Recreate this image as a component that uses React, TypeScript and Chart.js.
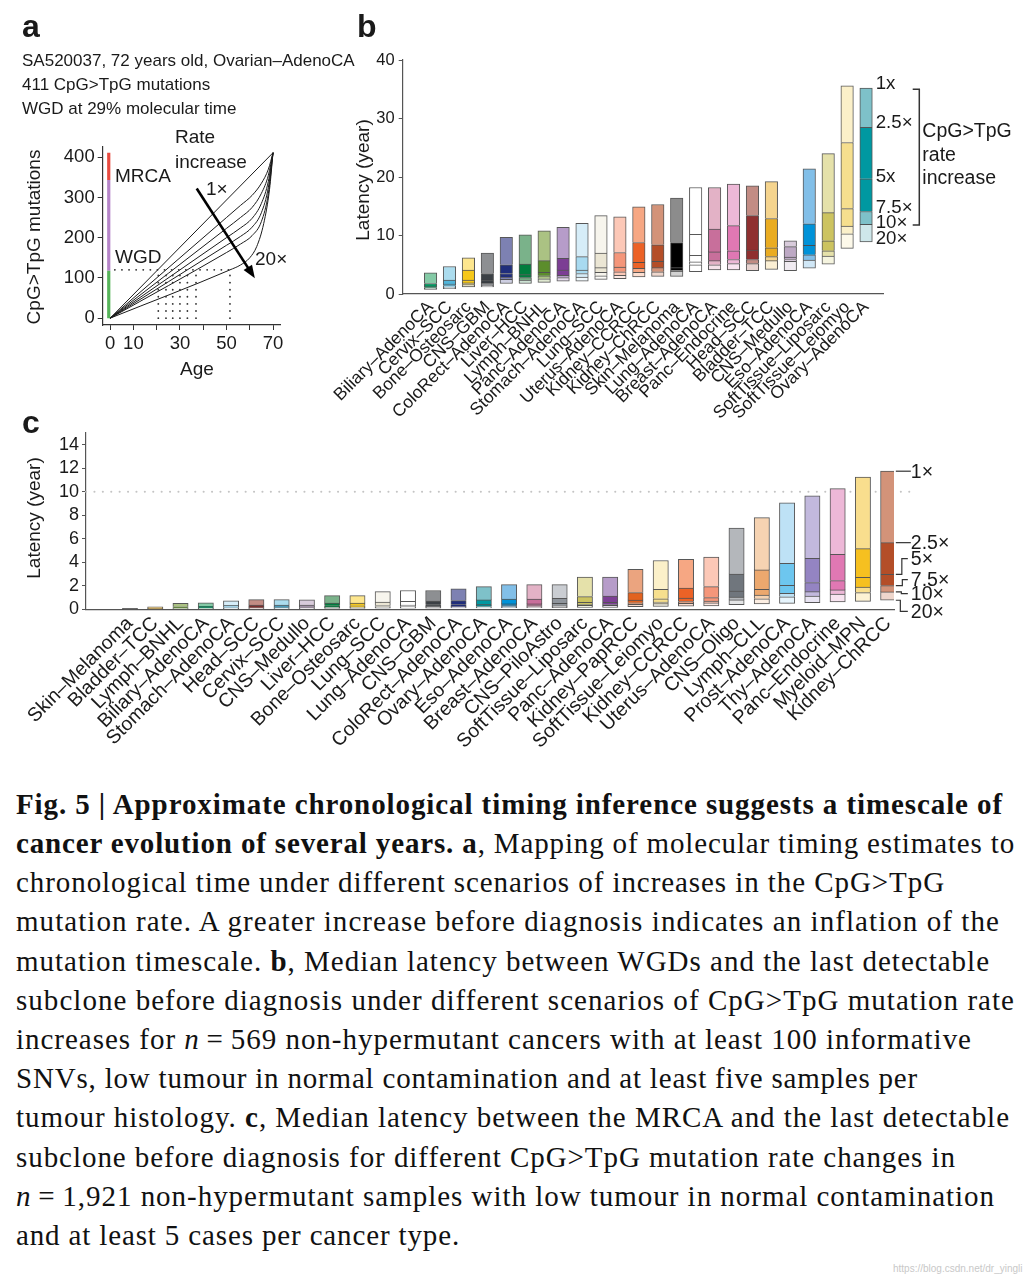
import React, { useEffect, useLayoutEffect, useRef } from 'react';
import { Chart, registerables } from 'chart.js';

Chart.register(...registerables);

const SANS = "'Liberation Sans', Arial, Helvetica, sans-serif";
const SERIF = "'Liberation Serif', 'Times New Roman', serif";
const INK = '#1a1a1a';

// ---------------- Panel a data ----------------
const ageTicksA = [0, 10, 20, 30, 40, 50, 60, 70];
const ageTickLabelsA = [0, 10, 30, 50, 70];
const mutTicksA = [0, 100, 200, 300, 400];
const curve1xA = [[0, 0], [70, 411]];
const curve2A = [[0, 0], [50, 250], [56, 280], [61, 305], [65, 335], [68, 370], [70, 411]];
const curve3A = [[0, 0], [50, 223], [56, 250], [61, 275], [65, 310], [68, 355], [70, 411]];
const curve4A = [[0, 0], [50, 200], [56, 224], [61, 248], [65, 285], [68, 340], [70, 411]];
const curve5A = [[0, 0], [50, 181], [56, 203], [61, 226], [65, 262], [68, 325], [70, 411]];
const curve6A = [[0, 0], [50, 163], [56, 184], [61, 205], [65, 240], [68, 310], [70, 411]];
const curve20xA = [[0, 0], [51.5, 120], [56, 132], [60, 150], [63, 178], [66, 235], [68.5, 320], [70, 411]];
const wgdLevelA = 120;
const wgdAgesA = [20.7, 24.0, 26.9, 30.0, 33.2, 36.9, 51.5];
const stageBreaksA = [0, 118, 343, 411];
const stageColorsA = ['#56b45a', '#b584c8', '#e84a3f'];
const arrowFromA = [37.2, 322];
const arrowToA = [62.2, 99];

// ---------------- Panel b data ----------------
const catsB = ['Biliary–AdenoCA', 'Cervix–SCC', 'Bone–Osteosarc', 'CNS–GBM', 'ColoRect–AdenoCA', 'Liver–HCC', 'Lymph–BNHL', 'Panc–AdenoCA', 'Stomach–AdenoCA', 'Lung–SCC', 'Uterus–AdenoCA', 'Kidney–CCRCC', 'Kidney–ChRCC', 'Skin–Melanoma', 'Lung–AdenoCA', 'Breast–AdenoCA', 'Panc–Endocrine', 'Head–SCC', 'Bladder–TCC', 'CNS–Medullo', 'Eso–AdenoCA', 'SoftTissue–Liposarc', 'SoftTissue–Leiomyo', 'Ovary–AdenoCA'];
const latB1x = [3.6, 4.7, 6.2, 7.0, 9.7, 10.1, 10.8, 11.4, 12.1, 13.4, 13.2, 14.9, 15.3, 16.4, 18.2, 18.2, 18.8, 18.5, 19.2, 9.1, 21.4, 24.0, 35.6, 35.2];
const latB2_5x = [1.8, 2.4, 4.1, 3.5, 5.0, 5.1, 5.7, 6.1, 6.4, 7.0, 7.1, 8.8, 8.4, 8.8, 10.2, 11.1, 11.7, 13.4, 12.9, 8.1, 12.0, 13.9, 25.9, 28.5];
const latB5x = [1.35, 1.7, 2.4, 2.4, 3.5, 3.3, 3.7, 4.1, 4.1, 4.5, 4.6, 5.4, 5.6, 4.5, 6.6, 7.2, 7.4, 7.5, 7.9, 6.3, 8.3, 9.1, 14.6, 19.7];
const latB7_5x = [1.1, 1.4, 1.9, 1.9, 2.9, 2.8, 3.1, 3.2, 3.5, 3.7, 3.8, 4.4, 4.5, 4.1, 5.5, 5.7, 5.9, 5.9, 6.4, 5.9, 6.7, 7.4, 11.6, 14.1];
const latB10x = [1.0, 1.2, 1.6, 1.5, 2.5, 2.4, 2.6, 2.8, 2.9, 3.1, 3.2, 3.7, 3.8, 3.9, 5.0, 5.0, 5.2, 5.2, 5.7, 5.6, 5.8, 6.5, 10.3, 11.9];
const latB20x = [0.8, 0.9, 1.2, 1.2, 1.8, 1.8, 2.0, 2.2, 2.2, 2.5, 2.6, 2.9, 3.0, 3.0, 3.8, 4.1, 4.1, 4.0, 4.2, 4.0, 4.4, 5.1, 7.8, 8.9];
const yTicksB = [0, 10, 20, 30, 40];
const rateLabelsB = ['1x', '2.5×', '5x', '7.5×', '10×', '20×'];

// ---------------- Panel c data ----------------
const catsC = ['Skin–Melanoma', 'Bladder–TCC', 'Lymph–BNHL', 'Biliary–AdenoCA', 'Stomach–AdenoCA', 'Head–SCC', 'Cervix–SCC', 'CNS–Medullo', 'Liver–HCC', 'Bone–Osteosarc', 'Lung–SCC', 'Lung–AdenoCA', 'CNS–GBM', 'ColoRect–AdenoCA', 'Ovary–AdenoCA', 'Eso–AdenoCA', 'Breast–AdenoCA', 'CNS–PiloAstro', 'SoftTissue–Liposarc', 'Panc–AdenoCA', 'Kidney–PapRCC', 'SoftTissue–Leiomyo', 'Kidney–CCRCC', 'Uterus–AdenoCA', 'CNS–Oligo', 'Lymph–CLL', 'Prost–AdenoCA', 'Thy–AdenoCA', 'Panc–Endocrine', 'Myeloid–MPN', 'Kidney–ChRCC'];
const latC1x = [0.06, 0.2, 0.5, 0.55, 0.72, 0.82, 0.82, 0.8, 1.16, 1.16, 1.5, 1.6, 1.6, 1.75, 1.93, 2.1, 2.1, 2.1, 2.75, 2.75, 3.4, 4.15, 4.25, 4.45, 6.9, 7.8, 9.05, 9.65, 10.27, 11.24, 11.75];
const latC2_5x = [0.03, 0.1, 0.22, 0.26, 0.34, 0.36, 0.36, 0.36, 0.52, 0.52, 0.62, 0.68, 0.7, 0.74, 0.8, 0.88, 0.86, 0.93, 1.08, 1.13, 1.42, 1.7, 1.8, 1.93, 3.0, 3.35, 3.92, 4.34, 4.68, 5.16, 5.67];
const latC5x = [0.02, 0.06, 0.13, 0.14, 0.19, 0.2, 0.2, 0.2, 0.3, 0.3, 0.32, 0.35, 0.38, 0.4, 0.42, 0.46, 0.46, 0.5, 0.6, 0.6, 0.78, 0.9, 0.95, 1.0, 1.56, 1.7, 2.04, 2.27, 2.44, 2.73, 2.98];
const latC7_5x = [0.015, 0.04, 0.09, 0.1, 0.13, 0.14, 0.14, 0.14, 0.2, 0.2, 0.22, 0.24, 0.26, 0.27, 0.29, 0.31, 0.31, 0.34, 0.42, 0.42, 0.55, 0.62, 0.66, 0.7, 1.05, 1.2, 1.36, 1.5, 1.65, 1.88, 2.02];
const latC10x = [0.01, 0.03, 0.07, 0.08, 0.1, 0.11, 0.11, 0.11, 0.16, 0.16, 0.17, 0.19, 0.2, 0.21, 0.22, 0.24, 0.24, 0.26, 0.33, 0.33, 0.42, 0.48, 0.5, 0.54, 0.8, 0.9, 1.07, 1.13, 1.3, 1.42, 1.48];
const latC20x = [0.005, 0.02, 0.04, 0.04, 0.05, 0.06, 0.06, 0.06, 0.08, 0.08, 0.09, 0.1, 0.1, 0.11, 0.12, 0.13, 0.13, 0.14, 0.17, 0.17, 0.22, 0.25, 0.26, 0.28, 0.4, 0.45, 0.5, 0.56, 0.62, 0.68, 0.77];
const yTicksC = [0, 2, 4, 6, 8, 10, 12, 14];
const refLineC = 10;
const rateLabelsC = ['1×', '2.5×', '5×', '7.5×', '10×', '20×'];

// ---------------- colours (base, light) per cancer type ----------------
const typeColors: Record<string, [string, string]> = {
  'Biliary–AdenoCA': ['#009a62', '#84caa6'],
  'Cervix–SCC': ['#52b5da', '#abdcee'],
  'Bone–Osteosarc': ['#f6c81a', '#fde68e'],
  'CNS–GBM': ['#3b4045', '#8d8f92'],
  'ColoRect–AdenoCA': ['#202e7c', '#7d81b2'],
  'Liver–HCC': ['#007d3e', '#7ab28a'],
  'Lymph–BNHL': ['#5c8d2c', '#abc283'],
  'Panc–AdenoCA': ['#7c3e94', '#b69cc9'],
  'Stomach–AdenoCA': ['#a8daf0', '#d6edf8'],
  'Lung–SCC': ['#ebe6d4', '#f7f5ed'],
  'Uterus–AdenoCA': ['#f4967a', '#fcc8b7'],
  'Kidney–CCRCC': ['#ec6226', '#f6a783'],
  'Kidney–ChRCC': ['#b44e28', '#d39379'],
  'Skin–Melanoma': ['#000000', '#8c8c8c'],
  'Lung–AdenoCA': ['#ffffff', '#ffffff'],
  'Breast–AdenoCA': ['#c86f9b', '#e3b2c6'],
  'Panc–Endocrine': ['#e078b3', '#edb8d7'],
  'Head–SCC': ['#8f3030', '#c28c84'],
  'Bladder–TCC': ['#eaac22', '#f5d48e'],
  'CNS–Medullo': ['#bda9c4', '#d8cbdb'],
  'Eso–AdenoCA': ['#0092d8', '#82bfe8'],
  'SoftTissue–Liposarc': ['#ccc360', '#e5e1aa'],
  'SoftTissue–Leiomyo': ['#f6df8e', '#fbf0c9'],
  'Ovary–AdenoCA': ['#0098a1', '#7ec1c9'],
  'CNS–PiloAstro': ['#8f959c', '#cacdd2'],
  'Kidney–PapRCC': ['#e2621f', '#eba47f'],
  'CNS–Oligo': ['#70767d', '#b4b7bb'],
  'Lymph–CLL': ['#eca86e', '#f6d3b2'],
  'Prost–AdenoCA': ['#6dc6ef', '#bee2f6'],
  'Thy–AdenoCA': ['#9484c2', '#c2b9dd'],
  'Myeloid–MPN': ['#f6c020', '#f9de8e'],
};

function tint(hex: string, a: number) {
  const n = parseInt(hex.slice(1), 16);
  const r = (n >> 16) & 255, g = (n >> 8) & 255, b = n & 255;
  const m = (c: number) => Math.round(c * a + 255 * (1 - a));
  return `rgb(${m(r)},${m(g)},${m(b)})`;
}
function colorFor(cat: string, tone: string) {
  const [base, light] = typeColors[cat] || ['#888888', '#cccccc'];
  if (tone === 'base') return base;
  if (tone === 'light') return light;
  return tint(light, 0.38);
}

// ---------------- layout ----------------
const A = { left: 0, top: 0, w: 340, h: 390, l: 102.7, r: 280, t: 146.7, b: 325 };
const B = { left: 320, top: 0, w: 715, h: 445, l: 82.7, r: 563.3, t: 60, b: 294 };
const C = { left: 0, top: 410, w: 1035, h: 350, l: 86, r: 894, t: 23, b: 199.3 };
const barThickB = 12.5;
const barThickC = 15.3;

const fixY = (w: number) => (s: any) => { s.width = w; s.paddingTop = 0; s.paddingBottom = 0; s.paddingLeft = 0; s.paddingRight = 0; };
const fixX = (h: number) => (s: any) => { s.height = h; s.paddingTop = 0; s.paddingBottom = 0; s.paddingLeft = 0; s.paddingRight = 0; };
const setTicks = (vals: number[]) => (s: any) => { s.ticks = vals.map((v) => ({ value: v })); };

function baseOptions(box: any) {
  return {
    responsive: false,
    animation: false,
    devicePixelRatio: 1,
    events: [],
    layout: { autoPadding: false, padding: { left: 0, top: box.t, right: box.w - box.r, bottom: 0 } },
    plugins: { legend: { display: false }, tooltip: { enabled: false } },
  };
}

function floatingBars(cats: string[], s1: number[], s2: number[], s5: number[], s7: number[], s10: number[], s20: number[], thick: number) {
  const bounds = [s20, s10, s7, s5, s2, s1];
  const tones = ['vlight', 'light', 'base', 'base', 'light'];
  return [0, 1, 2, 3, 4].map((k) => ({
    type: 'bar',
    data: cats.map((c, i) => ({ x: i, y: [bounds[k][i], bounds[k + 1][i]] })),
    backgroundColor: cats.map((c) => colorFor(c, tones[k])),
    borderColor: 'rgba(45,45,45,0.8)',
    borderWidth: { top: 1, left: 1, right: 1, bottom: k === 0 ? 1 : 0 },
    borderSkipped: false,
    barThickness: thick,
    grouped: false,
    order: 1,
  }));
}

// ---------------- chart a ----------------
const arrowPlugin = {
  id: 'arrowA',
  afterDatasetsDraw(chart: any) {
    const { ctx, scales } = chart;
    const x0 = scales.x.getPixelForValue(arrowFromA[0]);
    const y0 = scales.y.getPixelForValue(arrowFromA[1]);
    const x1 = scales.x.getPixelForValue(arrowToA[0]);
    const y1 = scales.y.getPixelForValue(arrowToA[1]);
    const ang = Math.atan2(y1 - y0, x1 - x0);
    const hl = 13, hw = 5;
    ctx.save();
    ctx.strokeStyle = '#000';
    ctx.fillStyle = '#000';
    ctx.lineWidth = 2.6;
    ctx.beginPath();
    ctx.moveTo(x0, y0);
    ctx.lineTo(x1 - Math.cos(ang) * hl * 0.8, y1 - Math.sin(ang) * hl * 0.8);
    ctx.stroke();
    ctx.beginPath();
    ctx.moveTo(x1, y1);
    ctx.lineTo(x1 - Math.cos(ang) * hl + Math.sin(ang) * hw, y1 - Math.sin(ang) * hl - Math.cos(ang) * hw);
    ctx.lineTo(x1 - Math.cos(ang) * hl - Math.sin(ang) * hw, y1 - Math.sin(ang) * hl + Math.cos(ang) * hw);
    ctx.closePath();
    ctx.fill();
    ctx.restore();
  },
};

function makeA() {
  const ds: any[] = [];
  const dotted = { borderColor: '#333', borderWidth: 1.8, borderDash: [0.1, 7], borderCapStyle: 'round', pointRadius: 0, fill: false };
  wgdAgesA.forEach((t) => ds.push({ ...dotted, data: [{ x: t, y: 0 }, { x: t, y: wgdLevelA }] }));
  ds.push({ ...dotted, data: [{ x: 2, y: wgdLevelA }, { x: wgdAgesA[wgdAgesA.length - 1], y: wgdLevelA }] });
  [curve1xA, curve2A, curve3A, curve4A, curve5A, curve6A, curve20xA].forEach((c) =>
    ds.push({ data: c.map(([x, y]) => ({ x, y })), borderColor: '#1a1a1a', borderWidth: 1, pointRadius: 0, cubicInterpolationMode: 'monotone', fill: false })
  );
  for (let k = 0; k < 3; k++) {
    ds.push({ data: [{ x: -0.6, y: stageBreaksA[k] }, { x: -0.6, y: stageBreaksA[k + 1] }], borderColor: stageColorsA[k], borderWidth: 3.2, pointRadius: 0, borderCapStyle: 'butt', fill: false });
  }
  const font = { family: SANS, size: 18.5 };
  return {
    type: 'line',
    data: { datasets: ds },
    options: {
      ...baseOptions(A),
      scales: {
        x: {
          type: 'linear', min: -3.2, max: 73,
          afterBuildTicks: setTicks(ageTicksA),
          afterFit: fixX(A.h - A.b),
          ticks: { font, color: INK, padding: 3, maxRotation: 0, autoSkip: false, callback: (v: any) => (ageTickLabelsA.includes(v) ? String(v) : '') },
          grid: { display: true, drawOnChartArea: false, drawTicks: true, tickLength: 5, color: '#333', lineWidth: 1 },
          border: { display: true, color: '#333', width: 1.2 },
        },
        y: {
          type: 'linear', min: -17, max: 426,
          afterBuildTicks: setTicks(mutTicksA),
          afterFit: fixY(A.l),
          ticks: { font, color: INK, padding: 3, callback: (v: any) => String(v) },
          grid: { display: true, drawOnChartArea: false, drawTicks: true, tickLength: 5, color: '#333', lineWidth: 1 },
          border: { display: true, color: '#333', width: 1.2 },
        },
      },
    },
    plugins: [arrowPlugin],
  };
}

// ---------------- chart b ----------------
const bracketPluginB = {
  id: 'bracketB',
  afterDraw(chart: any) {
    const ctx = chart.ctx;
    const ox = B.left;
    ctx.save();
    ctx.fillStyle = INK;
    ctx.textBaseline = 'alphabetic';
    ctx.font = `18.7px ${SANS}`;
    const bases = [89.3, 128.3, 182.3, 213.3, 227.7, 244.3];
    rateLabelsB.forEach((t, i) => ctx.fillText(t, 875.7 - ox, bases[i]));
    ctx.strokeStyle = '#333';
    ctx.lineWidth = 1.5;
    ctx.beginPath();
    ctx.moveTo(912.7 - ox, 89.3);
    ctx.lineTo(919.3 - ox, 89.3);
    ctx.lineTo(919.3 - ox, 225);
    ctx.lineTo(912.7 - ox, 225);
    ctx.stroke();
    ctx.font = `19.5px ${SANS}`;
    ['CpG>TpG', 'rate', 'increase'].forEach((t, i) => ctx.fillText(t, 922.3 - ox, [136.7, 160.7, 184][i]));
    ctx.restore();
  },
};

function makeB() {
  return {
    type: 'bar',
    data: { datasets: floatingBars(catsB, latB1x, latB2_5x, latB5x, latB7_5x, latB10x, latB20x, barThickB) },
    options: {
      ...baseOptions(B),
      scales: {
        x: {
          type: 'linear', min: -1.47, max: 23.91, offset: false,
          afterBuildTicks: setTicks(catsB.map((_, i) => i)),
          afterFit: fixX(B.h - B.b),
          ticks: { font: { family: SANS, size: 17.5 }, color: INK, padding: 3, minRotation: 45, maxRotation: 45, autoSkip: false, callback: (v: any) => catsB[v] ?? '' },
          grid: { display: true, drawOnChartArea: false, drawTicks: false, offset: false },
          border: { display: true, color: '#555', width: 1.2 },
        },
        y: {
          type: 'linear', min: 0, max: 40,
          afterBuildTicks: setTicks(yTicksB),
          afterFit: fixY(B.l),
          ticks: { font: { family: SANS, size: 16.5 }, color: INK, padding: 4, callback: (v: any) => String(v) },
          grid: { display: true, drawOnChartArea: false, drawTicks: true, tickLength: 4, color: '#555' },
          border: { display: true, color: '#555', width: 1.2 },
        },
      },
    },
    plugins: [bracketPluginB],
  };
}

// ---------------- chart c ----------------
const connectorPluginC = {
  id: 'connectorsC',
  afterDraw(chart: any) {
    const { ctx, scales } = chart;
    const last = catsC.length - 1;
    const xr = scales.x.getPixelForValue(last) + barThickC / 2;
    const vals = [latC1x[last], latC2_5x[last], latC5x[last], latC7_5x[last], latC10x[last], latC20x[last]];
    const labelMid = [471, 541.3, 558.7, 579.7, 593.7, 611.3].map((v) => v - C.top);
    const elbow = [0, 0, 6, 6.5, 5.5, 4.5];
    ctx.save();
    ctx.strokeStyle = '#333';
    ctx.lineWidth = 1.2;
    ctx.fillStyle = INK;
    ctx.font = `19.5px ${SANS}`;
    ctx.textBaseline = 'middle';
    vals.forEach((v, i) => {
      const yb = scales.y.getPixelForValue(v);
      ctx.beginPath();
      ctx.moveTo(xr, yb);
      let ty = yb;
      if (i < 2) {
        ctx.lineTo(xr + 15, yb);
      } else {
        ty = labelMid[i];
        ctx.lineTo(xr + elbow[i], yb);
        ctx.lineTo(xr + elbow[i], ty);
        ctx.lineTo(xr + 12, ty);
      }
      ctx.stroke();
      ctx.fillText(rateLabelsC[i], xr + 15, ty + 1);
    });
    ctx.restore();
  },
};

function makeC() {
  const ds: any[] = floatingBars(catsC, latC1x, latC2_5x, latC5x, latC7_5x, latC10x, latC20x, barThickC);
  ds.push({
    type: 'line',
    data: [{ x: -1.74, y: refLineC }, { x: 30.98, y: refLineC }],
    borderColor: '#c4c4c4', borderWidth: 2, borderDash: [0.1, 8.3], borderCapStyle: 'round',
    pointRadius: 0, fill: false, clip: false, order: 5,
  });
  return {
    type: 'bar',
    data: { datasets: ds },
    options: {
      ...baseOptions(C),
      scales: {
        x: {
          type: 'linear', min: -1.74, max: 30.23, offset: false,
          afterBuildTicks: setTicks(catsC.map((_, i) => i)),
          afterFit: fixX(C.h - C.b),
          ticks: { font: { family: SANS, size: 19.5 }, color: INK, padding: 3, minRotation: 45, maxRotation: 45, autoSkip: false, callback: (v: any) => catsC[v] ?? '' },
          grid: { display: true, drawOnChartArea: false, drawTicks: false, offset: false },
          border: { display: true, color: '#555', width: 1.2 },
        },
        y: {
          type: 'linear', min: 0, max: 15,
          afterBuildTicks: setTicks(yTicksC),
          afterFit: fixY(C.l),
          ticks: { font: { family: SANS, size: 18 }, color: INK, padding: 3, callback: (v: any) => String(v) },
          grid: { display: true, drawOnChartArea: false, drawTicks: true, tickLength: 4, color: '#555' },
          border: { display: true, color: '#555', width: 1.2 },
        },
      },
    },
    plugins: [connectorPluginC],
  };
}

// ---------------- components ----------------
function ChartBox({ box, make }: { box: any; make: () => any }) {
  const ref = useRef<HTMLCanvasElement>(null);
  useEffect(() => {
    const chart = new Chart(ref.current as HTMLCanvasElement, make());
    return () => chart.destroy();
  }, []);
  return <canvas ref={ref} width={box.w} height={box.h} style={{ position: 'absolute', left: box.left, top: box.top, width: box.w, height: box.h }} />;
}

function Txt({ x, base, size, text, bold }: { x: number; base: number; size: number; text: string; bold?: boolean }) {
  return (
    <div style={{ position: 'absolute', left: x, top: base - 0.8465 * size, fontFamily: SANS, fontSize: size, fontWeight: bold ? 700 : 400, lineHeight: 1, whiteSpace: 'nowrap', color: INK }}>
      {text}
    </div>
  );
}

function RotTitle({ cx, cy, size, text }: { cx: number; cy: number; size: number; text: string }) {
  return (
    <div style={{ position: 'absolute', left: cx, top: cy, transform: 'translate(-50%,-50%) rotate(-90deg)', whiteSpace: 'nowrap', fontFamily: SANS, fontSize: size, lineHeight: 1, color: INK }}>
      {text}
    </div>
  );
}

const captionLines: { parts: [string, string][]; right: number }[] = [
  { parts: [['b', 'Fig. 5 | Approximate chronological timing inference suggests a timescale of']], right: 1003 },
  { parts: [['b', 'cancer evolution of several years. a'], ['r', ', Mapping of molecular timing estimates to']], right: 1015 },
  { parts: [['r', 'chronological time under different scenarios of increases in the CpG>TpG']], right: 945 },
  { parts: [['r', 'mutation rate. A greater increase before diagnosis indicates an inflation of the']], right: 1000 },
  { parts: [['r', 'mutation timescale. '], ['b', 'b'], ['r', ', Median latency between WGDs and the last detectable']], right: 990 },
  { parts: [['r', 'subclone before diagnosis under different scenarios of CpG>TpG mutation rate']], right: 1015 },
  { parts: [['r', 'increases for '], ['i', 'n'], ['r', '\u2009=\u2009569 non-hypermutant cancers with at least 100 informative']], right: 972 },
  { parts: [['r', 'SNVs, low tumour in normal contamination and at least five samples per']], right: 918 },
  { parts: [['r', 'tumour histology. '], ['b', 'c'], ['r', ', Median latency between the MRCA and the last detectable']], right: 1010 },
  { parts: [['r', 'subclone before diagnosis for different CpG>TpG mutation rate changes in']], right: 956 },
  { parts: [['i', 'n'], ['r', '\u2009=\u20091,921 non-hypermutant samples with low tumour in normal contamination']], right: 995 },
  { parts: [['r', 'and at least 5 cases per cancer type.']], right: 460 },
];

function CaptionLine({ parts, right, base }: { parts: [string, string][]; right: number; base: number }) {
  const ref = useRef<HTMLDivElement>(null);
  const left = 16;
  const size = 29;
  useLayoutEffect(() => {
    const el = ref.current;
    if (!el) return;
    el.style.letterSpacing = '0px';
    const w = el.getBoundingClientRect().width;
    const n = (el.textContent || '').length;
    if (n > 1) el.style.letterSpacing = ((right - left - w) / n).toFixed(3) + 'px';
  }, []);
  return (
    <div ref={ref} style={{ position: 'absolute', left, top: base - 0.8375 * size, fontFamily: SERIF, fontSize: size, lineHeight: 1, whiteSpace: 'nowrap', color: '#111' }}>
      {parts.map(([k, t], i) => (
        <span key={i} style={{ fontWeight: k === 'b' ? 700 : 400, fontStyle: k === 'i' ? 'italic' : 'normal' }}>{t}</span>
      ))}
    </div>
  );
}

export default function App() {
  useLayoutEffect(() => {
    document.body.style.margin = '0';
    document.body.style.background = '#fff';
  }, []);
  return (
    <div style={{ position: 'relative', width: 1035, height: 1280, background: '#fff', overflow: 'hidden' }}>
      <ChartBox box={A} make={makeA} />
      <ChartBox box={C} make={makeC} />
      <ChartBox box={B} make={makeB} />

      {/* panel a texts */}
      <Txt x={22} base={37} size={32} text="a" bold />
      <Txt x={22} base={66.7} size={17} text="SA520037, 72 years old, Ovarian–AdenoCA" />
      <Txt x={22} base={90.7} size={17} text="411 CpG>TpG mutations" />
      <Txt x={22} base={114} size={17} text="WGD at 29% molecular time" />
      <Txt x={175} base={143} size={19} text="Rate" />
      <Txt x={175} base={167.7} size={19} text="increase" />
      <Txt x={115} base={181.7} size={19} text="MRCA" />
      <Txt x={206} base={195} size={19} text="1×" />
      <Txt x={115} base={263.3} size={19} text="WGD" />
      <Txt x={255} base={265} size={19} text="20×" />
      <RotTitle cx={33} cy={237} size={19} text="CpG>TpG mutations" />
      <Txt x={180} base={375} size={19} text="Age" />

      {/* panel b texts */}
      <Txt x={357} base={37} size={32} text="b" bold />
      <RotTitle cx={362} cy={180} size={19} text="Latency (year)" />

      {/* panel c texts */}
      <Txt x={22} base={433} size={32} text="c" bold />
      <RotTitle cx={33} cy={518} size={19} text="Latency (year)" />

      {/* caption */}
      {captionLines.map((l, i) => (
        <CaptionLine key={i} parts={l.parts} right={l.right} base={814 + 39.2 * i} />
      ))}
      <div style={{ position: 'absolute', left: 893, top: 1263, fontFamily: SANS, fontSize: 10, color: '#c8c8c8', whiteSpace: 'nowrap' }}>https://blog.csdn.net/dr_yingli</div>
    </div>
  );
}
